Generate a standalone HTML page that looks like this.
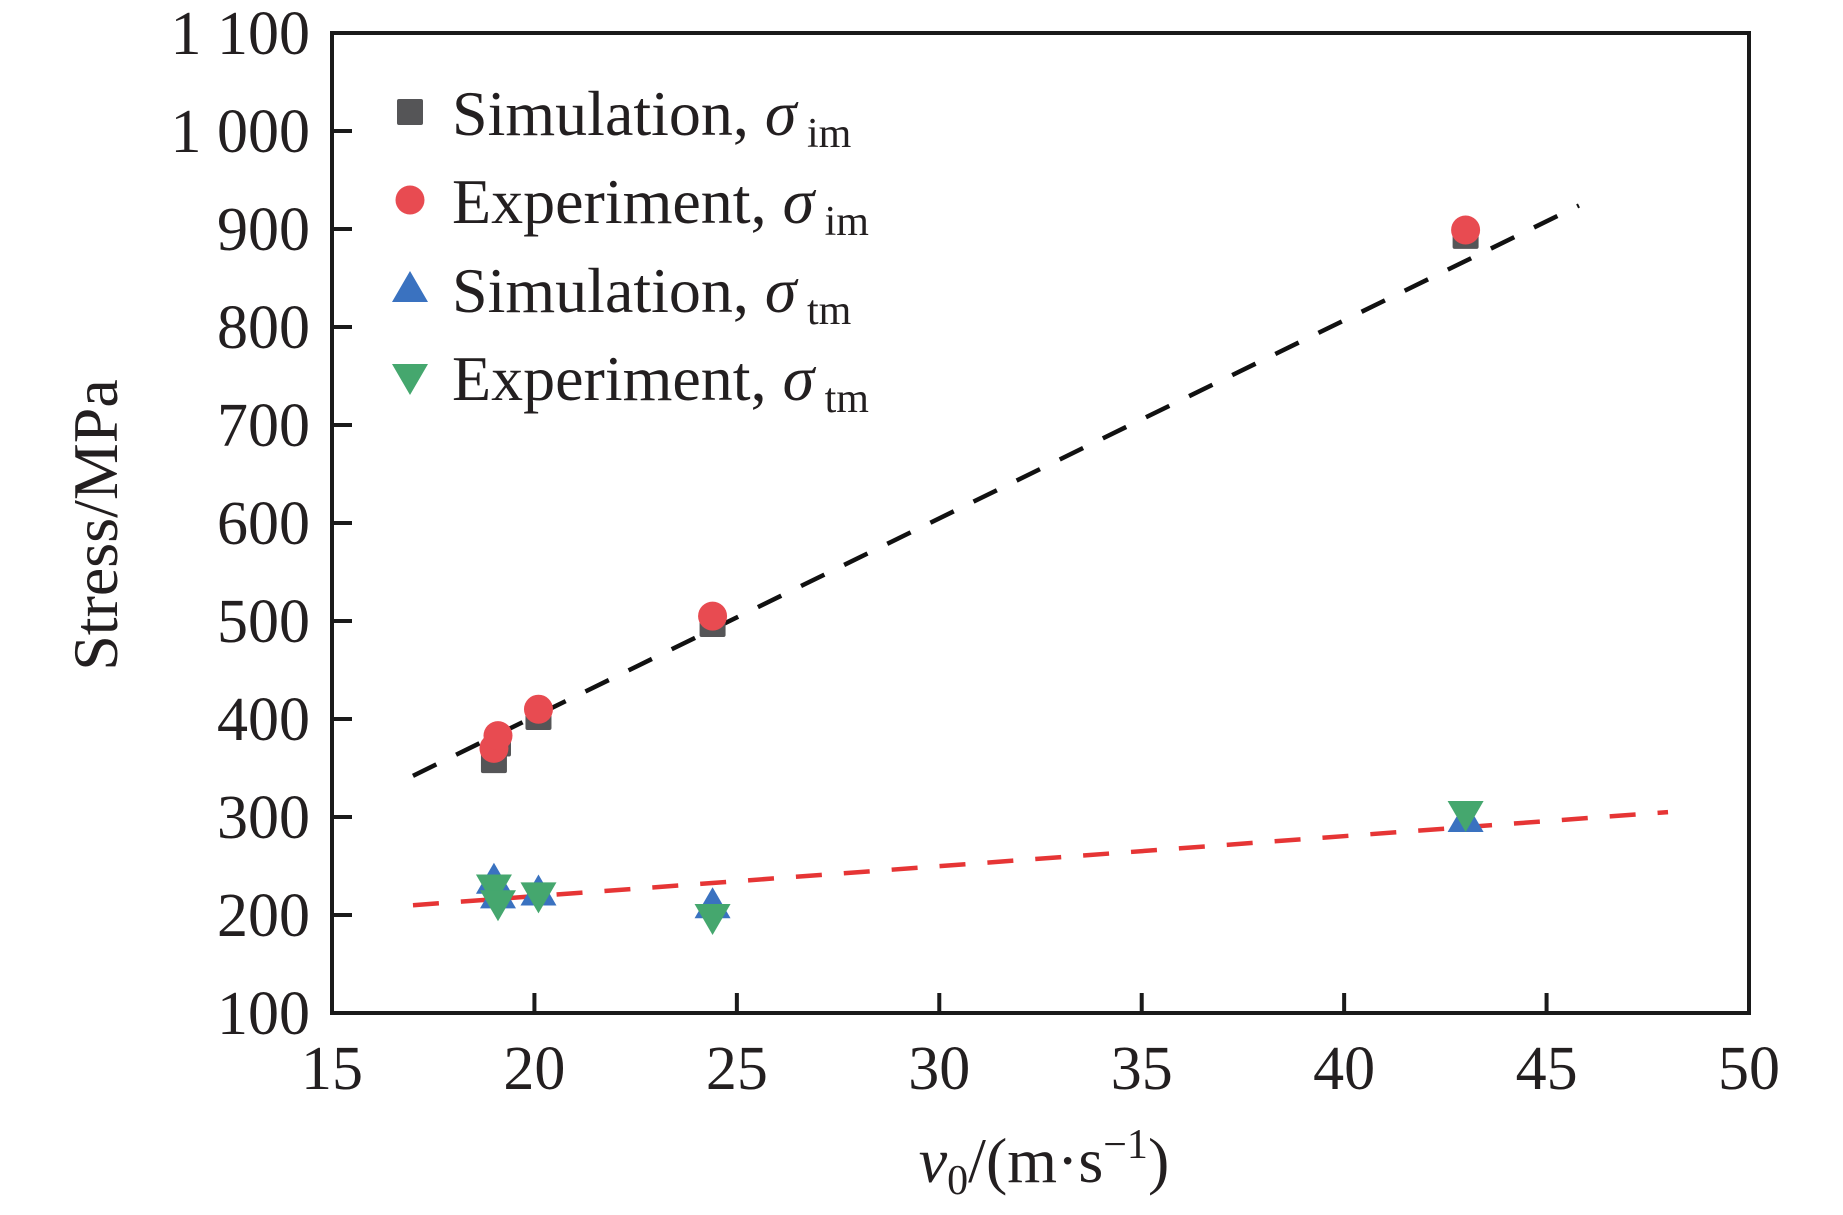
<!DOCTYPE html>
<html><head><meta charset="utf-8"><style>
html,body{margin:0;padding:0;background:#fff}
svg{display:block}
text{font-family:"Liberation Serif",serif;fill:#231f20}
</style></head><body>
<svg id="chart" width="1843" height="1215" viewBox="0 0 1843 1215" xmlns="http://www.w3.org/2000/svg">
<g id="plot"></g>
</svg>
<script>
const xTicks=[15,20,25,30,35,40,45,50];
const yTicks=[100,200,300,400,500,600,700,800,900,1000,1100];
const yTickLabels=["100","200","300","400","500","600","700","800","900","1 000","1 100"];
const simImX=[19,19.1,20.1,24.4,43];
const simImY=[358,375,402,497,893];
const expImX=[19,19.1,20.1,24.4,43];
const expImY=[370,383,410,505,899];
const simTmX=[19,19.1,20.1,24.4,43];
const simTmY=[235,220,223,210,298];
const expTmX=[19,19.1,20.1,24.4,43];
const expTmY=[228,212,220,198,303];
const fitImX=[17,45.8];
const fitImY=[342,924];
const fitTmX=[17,48];
const fitTmY=[210,305];

const L=332,R=1749,T=33,B=1013;
const sx=v=>L+(v-15)/35*(R-L);
const sy=v=>B-(v-100)/1000*(B-T);
const NS="http://www.w3.org/2000/svg";
const g=document.getElementById('plot');
function mk(tag,attrs,parent){const e=document.createElementNS(NS,tag);for(const k in attrs)e.setAttribute(k,attrs[k]);(parent||g).appendChild(e);return e;}

let e=mk('line',{x1:sx(fitImX[0]),y1:sy(fitImY[0]),x2:sx(fitImX[1]),y2:sy(fitImY[1]),stroke:'#111',"stroke-width":4.5,"stroke-dasharray":"26 22"});


e=mk('line',{x1:sx(fitTmX[0]),y1:sy(fitTmY[0]),x2:sx(fitTmX[1]),y2:sy(fitTmY[1]),stroke:'#e63535',"stroke-width":4.5,"stroke-dasharray":"26 22"});



function square(x,y,c){return mk('rect',{x:x-13,y:y-13,width:26,height:26,rx:2,fill:c});}
function circle(x,y,c){return mk('circle',{cx:x,cy:y,r:14.5,fill:c});}
function triUp(x,y,c){return mk('polygon',{points:`${x},${y-18} ${x+18},${y+13} ${x-18},${y+13}`,fill:c});}
function triDown(x,y,c){return mk('polygon',{points:`${x},${y+18} ${x+18},${y-13} ${x-18},${y-13}`,fill:c});}

simImX.forEach((v,i)=>{const m=square(sx(v),sy(simImY[i]),'#555557');

});
expImX.forEach((v,i)=>{const m=circle(sx(v),sy(expImY[i]),'#e84b51');

});
simTmX.forEach((v,i)=>{const m=triUp(sx(v),sy(simTmY[i]),'#3a72c0');

});
expTmX.forEach((v,i)=>{const m=triDown(sx(v),sy(expTmY[i]),'#45a76e');

});

e=mk('rect',{x:L,y:T,width:R-L,height:B-T,fill:'none',stroke:'#1a1a1a',"stroke-width":4});



xTicks.forEach(v=>{
 const x=sx(v);
 if(v>15&&v<50){const t=mk('line',{x1:x,y1:B,x2:x,y2:B-20,stroke:'#1a1a1a',"stroke-width":4});
 
 }
 const l=mk('text',{x:x,y:1089,"font-size":62,"text-anchor":"middle"});l.textContent=v;
 
 
});
yTicks.forEach((v,i)=>{
 const y=sy(v);
 if(v>100&&v<1100){const t=mk('line',{x1:L,y1:y,x2:L+20,y2:y,stroke:'#1a1a1a',"stroke-width":4});
 
 }
 const l=mk('text',{x:310,y:y+21,"font-size":62,"text-anchor":"end"});l.textContent=yTickLabels[i];
 
 
});
</script>
<svg style="position:absolute;left:0;top:0" width="1843" height="1215">
<text transform="translate(117,525) rotate(-90)" font-size="64" text-anchor="middle">Stress/MPa</text>
<text x="1044" y="1182" font-size="64" text-anchor="middle"><tspan font-style="italic">v</tspan><tspan font-size="42" dy="12">0</tspan><tspan dy="-12">/(m·s</tspan><tspan font-size="42" dy="-24">−1</tspan><tspan dy="24">)</tspan></text>
<g font-size="64">
 <rect x="397" y="99" width="26" height="26" rx="2" fill="#555557"/>
 <text x="452" y="135">Simulation, <tspan font-style="italic">σ</tspan><tspan font-size="42" dy="12"> im</tspan></text>
 <circle cx="410" cy="200" r="14.5" fill="#e84b51"/>
 <text x="452" y="223">Experiment, <tspan font-style="italic">σ</tspan><tspan font-size="42" dy="12"> im</tspan></text>
 <polygon points="410,271 428,302 392,302" fill="#3a72c0"/>
 <text x="452" y="312">Simulation, <tspan font-style="italic">σ</tspan><tspan font-size="42" dy="12"> tm</tspan></text>
 <polygon points="410,395 428,364 392,364" fill="#45a76e"/>
 <text x="452" y="400">Experiment, <tspan font-style="italic">σ</tspan><tspan font-size="42" dy="12"> tm</tspan></text>
</g>
</svg>
</body></html>
